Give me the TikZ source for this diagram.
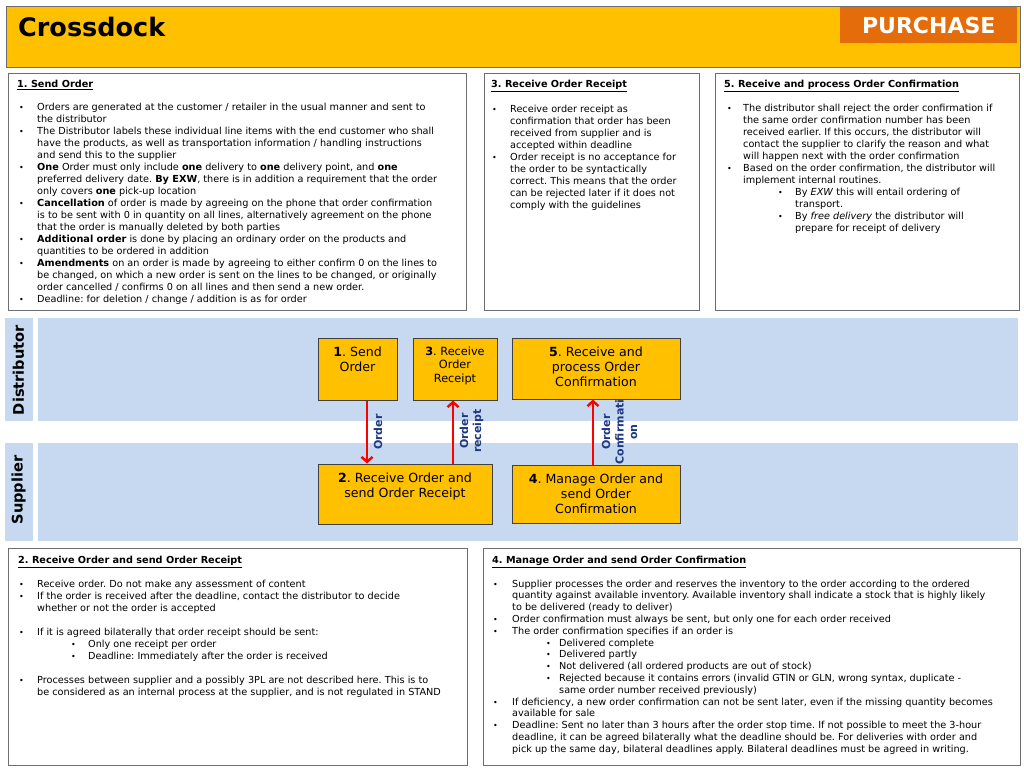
\documentclass[tikz,border=0pt]{standalone}
\usepackage{fontspec}
\setmainfont{DejaVu Sans}
\usetikzlibrary{arrows.meta}
\frenchspacing
\definecolor{hdr}{RGB}{255,192,0}
\definecolor{orng}{RGB}{228,108,10}
\definecolor{lane}{RGB}{198,217,241}
\definecolor{lbl}{RGB}{31,56,130}
\definecolor{bord}{RGB}{110,110,110}
\definecolor{flowb}{RGB}{64,64,64}
\newlength\bi \newlength\sbi \newlength\sti
\newcommand\bul{{\fontsize{8}{8}\selectfont\textbullet}}
\newcommand\Bl[1]{\makebox[\bi][l]{\bul}#1}
\newcommand\Cl[1]{\hspace*{\bi}#1}
\newcommand\SBl[1]{\hspace*{\sbi}\makebox[\sti][l]{\bul}#1}
\newcommand\SCl[1]{\hspace*{\sbi}\hspace*{\sti}#1}
\begin{document}
\begin{tikzpicture}[x=1pt,y=-1pt,
  panel/.style={draw=bord, line width=1.1pt, fill=white, anchor=north west, inner sep=0pt},
  band/.style={fill=lane, anchor=north west, inner sep=0pt},
  flow/.style={draw=flowb, line width=1pt, fill=hdr, inner sep=0pt},
  body/.style={inner sep=0pt, anchor=north west, align=left, font=\fontsize{9.7}{12}\selectfont},
  head/.style={inner sep=0pt, anchor=base west, font=\bfseries\fontsize{9.7}{12}\selectfont},
  ftxt/.style={inner sep=0pt, anchor=north, align=center, font=\fontsize{12.6}{15}\selectfont},
  arr/.style={draw=red, line width=2.4pt, -{Straight Barb[length=5pt,width=11pt]}},
  alab/.style={rotate=90, inner sep=0pt, align=center, text=lbl, font=\bfseries\fontsize{11}{13}\selectfont},
  lanetxt/.style={rotate=90, inner sep=0pt, font=\bfseries\fontsize{14.6}{16}\selectfont}
]
\useasboundingbox (0,0) rectangle (1024,769);
\fill[white] (0,0) rectangle (1024,769);

% header
\node[draw=bord, line width=1pt, fill=hdr, anchor=north west, minimum width=1014, minimum height=61, inner sep=0pt] (hdr) at (5.5,5.5) {};
\node[fill=orng, anchor=north west, minimum width=177, minimum height=36, inner sep=0pt] (tag) at (840,7) {};
\node[font=\bfseries\fontsize{22}{24}\selectfont, text=white, inner sep=0pt] (tagt) at (tag.center) {PURCHASE};
\node[font=\bfseries\fontsize{25.5}{28}\selectfont, anchor=base west, inner sep=0pt] (title) at (18,36) {Crossdock};

% panels
\node[panel, minimum width=458, minimum height=237] (p1) at (8,72.5) {};
\node[panel, minimum width=215, minimum height=237] (p3) at (484,72.5) {};
\node[panel, minimum width=304, minimum height=237] (p5) at (715,72.5) {};
\node[panel, minimum width=459, minimum height=217] (p2) at (8,548) {};
\node[panel, minimum width=537, minimum height=217] (p4) at (483,548) {};

% lanes
\node[band, minimum width=28, minimum height=103] (dl) at (5,318) {};
\node[band, minimum width=980, minimum height=103] (dm) at (38,318) {};
\node[band, minimum width=28, minimum height=98] (sl) at (5,443) {};
\node[band, minimum width=980, minimum height=98] (sm) at (38,443) {};
\node[lanetxt] (dt) at (18.5,370) {Distributor};
\node[lanetxt] (st) at (18.5,490) {Supplier};

% flow boxes
\node[flow, minimum width=79, minimum height=62] (n1) at (357.5,369) {};
\node[flow, minimum width=84, minimum height=62] (n3) at (455,369) {};
\node[flow, minimum width=168, minimum height=61] (n5) at (596,368.5) {};
\node[flow, minimum width=174, minimum height=60] (n2) at (405,494) {};
\node[flow, minimum width=168, minimum height=58] (n4) at (596,494) {};

\node[ftxt] (t1) at (357.5,346.6) {\rule{0pt}{10pt}\textbf{1}. Send\\Order};
\node[ftxt, font=\fontsize{11.3}{13.5}\selectfont] (t3) at (455,346.1) {\rule{0pt}{9pt}\textbf{3}. Receive\\Order\\Receipt};
\node[ftxt] (t5) at (596,346.6) {\rule{0pt}{10pt}\textbf{5}. Receive and\\process Order\\Confirmation};
\node[ftxt] (t2) at (405,472.6) {\rule{0pt}{10pt}\textbf{2}. Receive Order and\\send Order Receipt};
\node[ftxt] (t4) at (596,473.6) {\rule{0pt}{10pt}\textbf{4}. Manage Order and\\send Order\\Confirmation};

% arrows
\coordinate (x1) at (367,0);
\coordinate (x2) at (453,0);
\coordinate (x3) at (593,0);
\draw[arr] (x1 |- n1.south) -- (x1 |- n2.north);
\draw[arr] (x2 |- n2.north) -- (x2 |- n3.south);
\draw[arr] (x3 |- n4.north) -- (x3 |- n5.south);
\node[alab] (l1) at (378,432) {Order};
\node[alab] (l2) at (471.5,431) {Order\\receipt};
\node[alab, font=\bfseries\fontsize{11}{13.5}\selectfont] (l3) at (619.5,432) {Order\\Confirmati\\on};

% panel 1
\node[head] (h1) at (17,87.8) {\underline{1. Send Order}};
\setlength{\bi}{18pt}
\node[body] (b1) at (19,101.8) {\rule{0pt}{8pt}\Bl{Orders are generated at the customer / retailer in the usual manner and sent to}\\
\Cl{the distributor}\\
\Bl{The Distributor labels these individual line items with the end customer who shall}\\
\Cl{have the products, as well as transportation information / handling instructions}\\
\Cl{and send this to the supplier}\\
\Bl{\textbf{One} Order must only include \textbf{one} delivery to \textbf{one} delivery point, and \textbf{one}}\\
\Cl{preferred delivery date. \textbf{By EXW}, there is in addition a requirement that the order}\\
\Cl{only covers \textbf{one} pick-up location}\\
\Bl{\textbf{Cancellation} of order is made by agreeing on the phone that order confirmation}\\
\Cl{is to be sent with 0 in quantity on all lines, alternatively agreement on the phone}\\
\Cl{that the order is manually deleted by both parties}\\
\Bl{\textbf{Additional order} is done by placing an ordinary order on the products and}\\
\Cl{quantities to be ordered in addition}\\
\Bl{\textbf{Amendments} on an order is made by agreeing to either confirm 0 on the lines to}\\
\Cl{be changed, on which a new order is sent on the lines to be changed, or originally}\\
\Cl{order cancelled / confirms 0 on all lines and then send a new order.}\\
\Bl{Deadline: for deletion / change / addition is as for order}};

% panel 3
\node[head] (h3) at (491,87.8) {\underline{3. Receive Order Receipt}};
\node[body] (b3) at (492,104.3) {\rule{0pt}{8pt}\Bl{Receive order receipt as}\\
\Cl{confirmation that order has been}\\
\Cl{received from supplier and is}\\
\Cl{accepted within deadline}\\
\Bl{Order receipt is no acceptance for}\\
\Cl{the order to be syntactically}\\
\Cl{correct. This means that the order}\\
\Cl{can be rejected later if it does not}\\
\Cl{comply with the guidelines}};

% panel 5
\node[head] (h5) at (724,87.8) {\underline{5. Receive and process Order Confirmation}};
\setlength{\bi}{16pt}\setlength{\sbi}{51pt}\setlength{\sti}{17pt}
\node[body] (b5) at (727,102.8) {\rule{0pt}{8pt}\Bl{The distributor shall reject the order confirmation if}\\
\Cl{the same order confirmation number has been}\\
\Cl{received earlier. If this occurs, the distributor will}\\
\Cl{contact the supplier to clarify the reason and what}\\
\Cl{will happen next with the order confirmation}\\
\Bl{Based on the order confirmation, the distributor will}\\
\Cl{implement internal routines.}\\
\SBl{By \textit{EXW} this will entail ordering of}\\
\SCl{transport.}\\
\SBl{By \textit{free delivery} the distributor will}\\
\SCl{prepare for receipt of delivery}};

% panel 2
\node[head] (h2) at (18,563.5) {\underline{2. Receive Order and send Order Receipt}};
\setlength{\bi}{18pt}\setlength{\sbi}{52pt}\setlength{\sti}{17pt}
\node[body] (b2) at (19,578.8) {\rule{0pt}{8pt}\Bl{Receive order. Do not make any assessment of content}\\
\Bl{If the order is received after the deadline, contact the distributor to decide}\\
\Cl{whether or not the order is accepted}\\
\mbox{}\\
\Bl{If it is agreed bilaterally that order receipt should be sent:}\\
\SBl{Only one receipt per order}\\
\SBl{Deadline: Immediately after the order is received}\\
\mbox{}\\
\Bl{Processes between supplier and a possibly 3PL are not described here. This is to}\\
\Cl{be considered as an internal process at the supplier, and is not regulated in STAND}};

% panel 4
\node[head] (h4) at (492,563.5) {\underline{4. Manage Order and send Order Confirmation}};
\setlength{\bi}{19pt}\setlength{\sbi}{53pt}\setlength{\sti}{13pt}
\node[body, font=\fontsize{9.7}{11.8}\selectfont] (b4) at (493,578.8) {\rule{0pt}{8pt}\Bl{Supplier processes the order and reserves the inventory to the order according to the ordered}\\
\Cl{quantity against available inventory. Available inventory shall indicate a stock that is highly likely}\\
\Cl{to be delivered (ready to deliver)}\\
\Bl{Order confirmation must always be sent, but only one for each order received}\\
\Bl{The order confirmation specifies if an order is}\\
\SBl{Delivered complete}\\
\SBl{Delivered partly}\\
\SBl{Not delivered (all ordered products are out of stock)}\\
\SBl{Rejected because it contains errors (invalid GTIN or GLN, wrong syntax, duplicate -}\\
\SCl{same order number received previously)}\\
\Bl{If deficiency, a new order confirmation can not be sent later, even if the missing quantity becomes}\\
\Cl{available for sale}\\
\Bl{Deadline: Sent no later than 3 hours after the order stop time. If not possible to meet the 3-hour}\\
\Cl{deadline, it can be agreed bilaterally what the deadline should be. For deliveries with order and}\\
\Cl{pick up the same day, bilateral deadlines apply. Bilateral deadlines must be agreed in writing.}};
\end{tikzpicture}
\end{document}
